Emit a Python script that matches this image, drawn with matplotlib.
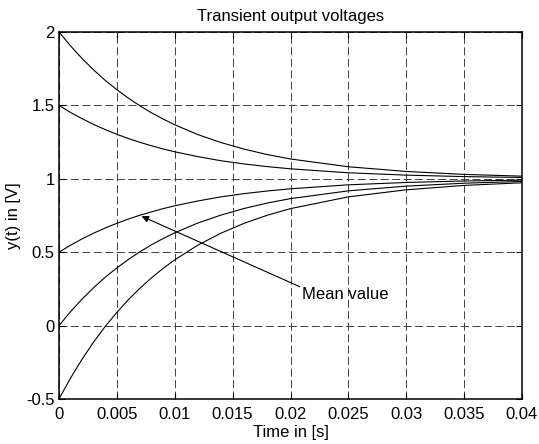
import matplotlib
matplotlib.use("Agg")
import matplotlib.pyplot as plt

plt.rcParams['font.family'] = ['Liberation Sans', 'DejaVu Sans']

# sample times [s]
t = [0.000, 0.001, 0.002, 0.003, 0.004, 0.005, 0.006, 0.007, 0.008, 0.009,
     0.010, 0.012, 0.014, 0.016, 0.018, 0.020, 0.025, 0.030, 0.035, 0.040]

# output voltages [V] for the different starting values
y_start_2 = [2.000, 1.905, 1.819, 1.741, 1.670, 1.607, 1.549, 1.497, 1.449, 1.407,
             1.368, 1.301, 1.247, 1.202, 1.165, 1.135, 1.082, 1.050, 1.030, 1.018]
y_start_15 = [1.500, 1.452, 1.409, 1.370, 1.335, 1.303, 1.274, 1.248, 1.225, 1.203,
              1.184, 1.151, 1.123, 1.101, 1.083, 1.068, 1.041, 1.025, 1.015, 1.009]
y_start_05 = [0.500, 0.548, 0.591, 0.630, 0.665, 0.697, 0.726, 0.752, 0.775, 0.797,
              0.816, 0.849, 0.877, 0.899, 0.917, 0.932, 0.959, 0.975, 0.985, 0.991]
y_start_0 = [0.000, 0.095, 0.181, 0.259, 0.330, 0.393, 0.451, 0.503, 0.551, 0.593,
             0.632, 0.699, 0.753, 0.798, 0.835, 0.865, 0.918, 0.950, 0.970, 0.982]
y_start_m05 = [-0.500, -0.357, -0.228, -0.111, -0.005, 0.090, 0.177, 0.255, 0.326, 0.390,
               0.448, 0.548, 0.630, 0.697, 0.752, 0.797, 0.877, 0.925, 0.955, 0.973]

x_ticks = [0, 0.005, 0.01, 0.015, 0.02, 0.025, 0.03, 0.035, 0.04]
x_tick_labels = ['0', '0.005', '0.01', '0.015', '0.02', '0.025', '0.03', '0.035', '0.04']
y_ticks = [-0.5, 0, 0.5, 1, 1.5, 2]
y_tick_labels = ['-0.5', '0', '0.5', '1', '1.5', '2']

# arrow: points to the curve starting at 0.5
arrow_tip = (0.00714, 0.745)
arrow_tail = (0.0208, 0.265)
label_pos = (0.0210, 0.214)

fig = plt.figure(figsize=(5.39, 4.44), dpi=100)
ax = fig.add_axes([59 / 539, 45 / 444, 463 / 539, 367 / 444])

for y in [y_start_2, y_start_15, y_start_05, y_start_0, y_start_m05]:
    ax.plot(t, y, color='black', linewidth=0.8)

ax.set_xlim(0, 0.04)
ax.set_ylim(-0.5, 2)
ax.set_xticks(x_ticks)
ax.set_xticklabels(x_tick_labels)
ax.set_yticks(y_ticks)
ax.set_yticklabels(y_tick_labels)
ax.tick_params(direction='in', length=4, top=True, right=True, labelsize=12)
ax.tick_params(axis='x', pad=6)
ax.tick_params(axis='y', pad=3)
# dashes are scaled by linewidth: ~8px dash, ~3.5px gap
ax.grid(True, color='#404040', linestyle=(0, (8.2, 3.6)), linewidth=0.7)
for s in ax.spines.values():
    s.set_linewidth(1.1)

ax.set_title('Transient output voltages', fontsize=12, pad=8)
ax.set_xlabel('Time in [s]', fontsize=12, labelpad=2)
ax.set_ylabel('y(t) in [V]', fontsize=12, labelpad=4)

ax.annotate('', xy=arrow_tip, xytext=arrow_tail,
            arrowprops=dict(arrowstyle='-|>', color='black', lw=0.8,
                            mutation_scale=10, shrinkA=0, shrinkB=0))
ax.text(label_pos[0], label_pos[1], 'Mean value', fontsize=12, va='center', ha='left')

fig.savefig('out.png', dpi=100)
